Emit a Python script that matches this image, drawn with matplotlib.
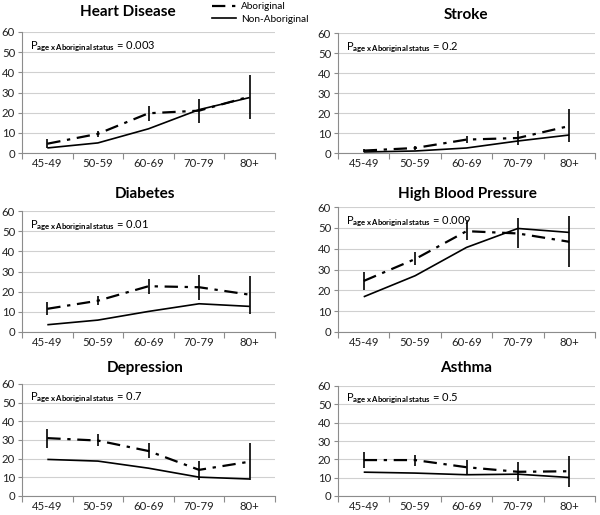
import matplotlib
matplotlib.use("Agg")
import matplotlib.pyplot as plt
from matplotlib.lines import Line2D
import numpy as np

plt.rcParams['font.family'] = ['Lato', 'DejaVu Sans']
plt.rcParams['mathtext.fontset'] = 'custom'
plt.rcParams['mathtext.rm'] = 'Lato'
plt.rcParams['mathtext.bf'] = 'Lato:bold'

age_groups = ["45-49", "50-59", "60-69", "70-79", "80+"]

titles = ["Heart Disease", "Stroke", "Diabetes", "High Blood Pressure", "Depression", "Asthma"]
p_values = ["0.003", "0.2", "0.01", "0.009", "0.7", "0.5"]

# Aboriginal estimates and confidence limits
heart_ab = [4.6, 9.5, 19.7, 21.0, 28.0]
heart_ab_lo = [2.5, 8.0, 16.0, 15.0, 17.0]
heart_ab_hi = [7.0, 11.0, 23.4, 26.6, 38.6]
heart_non = [2.5, 5.0, 12.0, 21.5, 27.5]

stroke_ab = [1.2, 2.5, 6.7, 7.5, 13.5]
stroke_ab_lo = [0.5, 1.5, 5.0, 4.0, 5.5]
stroke_ab_hi = [1.8, 3.5, 8.5, 11.0, 22.0]
stroke_non = [0.5, 1.0, 2.5, 6.0, 9.0]

diab_ab = [11.5, 15.5, 22.7, 22.2, 18.5]
diab_ab_lo = [8.5, 13.5, 19.0, 16.0, 9.0]
diab_ab_hi = [15.0, 18.0, 26.4, 28.3, 27.8]
diab_non = [3.6, 5.9, 10.2, 14.0, 12.7]

hbp_ab = [24.5, 35.0, 48.4, 47.3, 43.3]
hbp_ab_lo = [20.0, 32.2, 44.1, 40.4, 31.4]
hbp_ab_hi = [29.0, 38.2, 53.2, 54.8, 55.6]
hbp_non = [16.9, 27.0, 40.6, 49.7, 47.8]

dep_ab = [31.0, 29.7, 24.1, 14.0, 18.4]
dep_ab_lo = [25.9, 26.6, 20.1, 8.7, 8.7]
dep_ab_hi = [35.8, 33.2, 28.3, 18.9, 28.3]
dep_non = [19.6, 18.7, 14.9, 10.1, 9.1]

asthma_ab = [19.6, 19.6, 15.7, 13.2, 13.5]
asthma_ab_lo = [15.1, 16.4, 11.9, 8.0, 5.0]
asthma_ab_hi = [23.8, 22.2, 19.6, 18.3, 21.9]
asthma_non = [13.0, 12.5, 11.6, 11.9, 10.1]

panels = [
    (heart_ab, heart_ab_lo, heart_ab_hi, heart_non),
    (stroke_ab, stroke_ab_lo, stroke_ab_hi, stroke_non),
    (diab_ab, diab_ab_lo, diab_ab_hi, diab_non),
    (hbp_ab, hbp_ab_lo, hbp_ab_hi, hbp_non),
    (dep_ab, dep_ab_lo, dep_ab_hi, dep_non),
    (asthma_ab, asthma_ab_lo, asthma_ab_hi, asthma_non),
]

W, H = 600, 515
fig = plt.figure(figsize=(6.0, 5.15), dpi=100)

# axes rectangles in pixels: (left, top, right, bottom)
rects = [
    (22, 32, 275, 153), (338, 33, 595, 153),
    (22, 211, 275, 332), (338, 207, 595, 332),
    (22, 384, 275, 496), (338, 386, 595, 496),
]
title_pos = [(128, 12), (466, 15), (145, 194), (467, 194), (145, 368), (466, 368)]

dash_dot = (0, (6, 3, 1.5, 3))
grid_c = "#d0d0d0"
spine_c = "#8c8c8c"

x = np.arange(len(age_groups))
for i, (ab, lo, hi, non) in enumerate(panels):
    l, t, r, b = rects[i]
    ax = fig.add_axes([l / W, 1 - b / H, (r - l) / W, (b - t) / H])
    ab = np.array(ab); lo = np.array(lo); hi = np.array(hi)
    ax.plot(x, non, color="black", lw=1.2, solid_capstyle="butt")
    ax.plot(x, ab, color="black", lw=1.6, linestyle=dash_dot)
    ax.errorbar(x, ab, yerr=[ab - lo, hi - ab], fmt="none", ecolor="black",
                elinewidth=1.2, capsize=0)
    ax.set_xlim(-0.5, 4.5)
    ax.set_ylim(0, 60)
    ax.set_yticks(range(0, 61, 10))
    ax.set_xticks(x)
    ax.set_xticklabels(age_groups)
    ax.set_xticks(np.arange(-0.5, 5, 1), minor=True)
    ax.tick_params(axis="x", which="major", length=0, labelsize=8.2, pad=3.5, colors="#222222")
    ax.tick_params(axis="x", which="minor", length=4, color=spine_c, width=0.8)
    ax.tick_params(axis="y", length=3, color=spine_c, width=0.8, labelsize=8.2, pad=2, colors="#222222")
    ax.tick_params(axis="y", which="both", color=spine_c)
    ax.grid(axis="y", color=grid_c, lw=0.8)
    ax.set_axisbelow(True)
    for s in ["top", "right"]:
        ax.spines[s].set_visible(False)
    for s in ["left", "bottom"]:
        ax.spines[s].set_color(spine_c)
        ax.spines[s].set_linewidth(0.8)
    ax.text(0.03, 0.88, r"$\mathrm{P}_{\mathbf{age\,x\,Aboriginal\,status}}$ = " + p_values[i],
            transform=ax.transAxes, fontsize=8, va="center", ha="left")
    tx, ty = title_pos[i]
    fig.text(tx / W, 1 - ty / H, titles[i], fontsize=11, fontweight="bold",
             ha="center", va="center")

handles = [Line2D([], [], color="black", lw=1.6, linestyle=dash_dot),
           Line2D([], [], color="black", lw=1.2)]
fig.legend(handles, ["Aboriginal", "Non-Aboriginal"], loc="upper left",
           bbox_to_anchor=(205 / W, 1 - (-5) / H), frameon=False, fontsize=7.2,
           handlelength=2.4, handletextpad=0.5, labelspacing=0.35, borderpad=0.2)

fig.savefig("out.png", dpi=100)
